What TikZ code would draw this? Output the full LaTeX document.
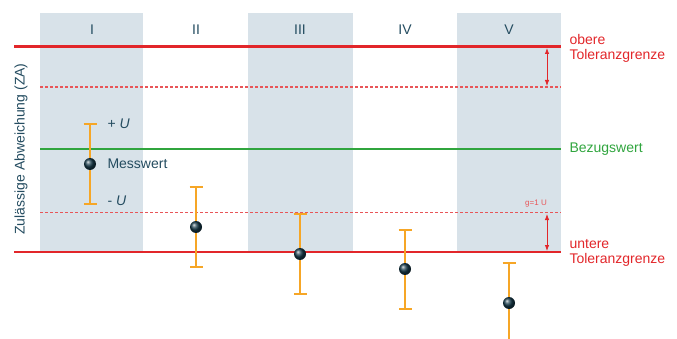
\documentclass[tikz,border=0pt]{standalone}
\usepackage{fontspec}
\setmainfont{Liberation Sans}
\usetikzlibrary{arrows.meta}
\definecolor{rot}{RGB}{226,38,42}
\definecolor{rothell}{RGB}{232,85,88}
\definecolor{gruen}{RGB}{48,165,62}
\definecolor{orangeb}{RGB}{246,166,38}
\definecolor{grau}{RGB}{216,226,233}
\definecolor{petrol}{RGB}{36,76,96}
\definecolor{kugel}{RGB}{22,58,74}
\begin{document}
\begin{tikzpicture}[x=1pt, y=1pt, yscale=-1, font=\fontsize{14}{15}\selectfont,
	saeule/.style={fill=grau, draw=none},
	grenze/.style={draw=rot, line width=2.8pt},
	hilfslinie/.style={draw=rothell, line width=1.1pt, dash pattern=on 3pt off 2pt},
	bezug/.style={draw=gruen, line width=2.4pt},
	balken/.style={draw=orangeb, line width=1.8pt, {Bar[width=13pt]}-{Bar[width=13pt]}},
	wert/.style={circle, inner sep=0pt, minimum size=12pt, ball color=kugel},
	pfeil/.style={draw=rot, line width=.8pt, {Latex[length=6pt,width=4.5pt]}-{Latex[length=6pt,width=4.5pt]}},
	nummer/.style={text=petrol},
	beschr/.style={text=petrol, anchor=west},
	rotlabel/.style={text=rot, anchor=west, align=left}]
	\useasboundingbox (0,0) rectangle (677,339);
	% Saeulen
	\fill[saeule] (40,13)  rectangle ++(103,238);
	\fill[saeule] (248,13) rectangle ++(105,238);
	\fill[saeule] (457,13) rectangle ++(104,238);
	\node[nummer] (n1) at (92,30)  {I};
	\node[nummer] (n2) at (196,30) {II};
	\node[nummer] (n3) at (300,30) {III};
	\node[nummer] (n4) at (405,30) {IV};
	\node[nummer] (n5) at (509,30) {V};
	% Grenzen
	\draw[grenze]     (14,46.5)  -- (561,46.5);
	\draw[hilfslinie] (40,87)    -- (561,87);
	\draw[bezug]      (40,149)   -- (561,149);
	\draw[hilfslinie] (40,212.5) -- (561,212.5);
	\draw[grenze]     (14,252)   -- (561,252);
	\coordinate (a1) at (547,48);  \coordinate (a2) at (547,86);
	\coordinate (b1) at (547,214); \coordinate (b2) at (547,251);
	\draw[pfeil] (a1) -- (a2);
	\draw[pfeil] (b1) -- (b2);
	\node[text=rothell, font=\fontsize{8}{9}\selectfont] (g) at (536,204) {g=1 U};
	\node[rotlabel] (og) at (566,48)  {obere\\Toleranzgrenze};
	\node[rotlabel] (ug) at (566,253) {untere\\Toleranzgrenze};
	\node[text=gruen, anchor=west] (bw) at (566,149) {Bezugswert};
	\node[text=petrol, rotate=90] (za) at (21,149) {Zulässige Abweichung (ZA)};
	% Messwerte
	\coordinate (o1) at (90,123);  \coordinate (u1) at (90,205);
	\coordinate (o2) at (196,186); \coordinate (u2) at (196,268);
	\coordinate (o3) at (300,213); \coordinate (u3) at (300,295);
	\coordinate (o4) at (405,229); \coordinate (u4) at (405,310);
	\coordinate (o5) at (509,262); \coordinate (u5) at (509,344);
	\draw[balken] (o1) -- (u1);
	\draw[balken] (o2) -- (u2);
	\draw[balken] (o3) -- (u3);
	\draw[balken] (o4) -- (u4);
	\draw[balken] (o5) -- (u5);
	\node[wert] (m1) at (90,164)  {};
	\node[wert] (m2) at (196,227) {};
	\node[wert] (m3) at (300,254) {};
	\node[wert] (m4) at (405,269) {};
	\node[wert] (m5) at (509,303) {};
	\node[beschr] (pu) at (104,124) {+ \textit{U}};
	\node[beschr] (mw) at (104,164) {Messwert};
	\node[beschr] (mu) at (104,201) {- \textit{U}};
\end{tikzpicture}
\end{document}
